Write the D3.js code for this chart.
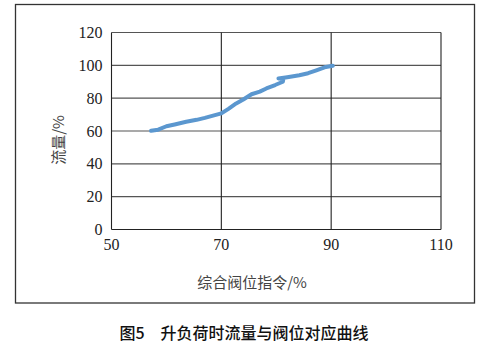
<!DOCTYPE html>
<html><head><meta charset="utf-8">
<script src="https://cdn.jsdelivr.net/npm/d3@7"></script>
<style>body{margin:0;background:#fff}svg{display:block}</style>
</head><body>
<script>
const valve = [57.2, 58.5, 60, 61.5, 63.6, 65.5, 67, 68.5, 70, 71.3, 72.7, 74, 75.5, 77, 78.2, 79.8, 81.2, 81.3, 80.4, 82, 84.2, 85.8, 87.3, 88.8, 90.3];
const flow = [60.1, 60.8, 62.9, 64, 65.6, 66.8, 68, 69.4, 70.7, 73.5, 76.8, 79.2, 82.4, 84, 85.9, 88, 90, 91.8, 92, 92.8, 94, 95.2, 97, 98.8, 99.7];
const xTicks = [50, 70, 90, 110];
const yTicks = [0, 20, 40, 60, 80, 100, 120];
const xLabel = "综合阀位指令/%";
const yLabel = "流量/%";
const caption = "图5　升负荷时流量与阀位对应曲线";

const W = 488, H = 347;
const svg = d3.select("body").append("svg").attr("width", W).attr("height", H);
const x = d3.scaleLinear().domain([50, 110]).range([111.5, 441]);
const y = d3.scaleLinear().domain([0, 120]).range([229.5, 32.5]);

svg.append("rect").attr("x", 15.5).attr("y", 4.5).attr("width", 459).attr("height", 298.5)
  .attr("fill", "none").attr("stroke", "#333").attr("stroke-width", 1.3);

const g = svg.append("g");
g.selectAll(".hg").data(yTicks).join("line")
  .attr("x1", x(50)).attr("x2", x(110)).attr("y1", d => y(d)).attr("y2", d => y(d))
  .attr("stroke", d => d === 0 ? "#222" : "#555").attr("stroke-width", 1.2);
g.selectAll(".vg").data(xTicks).join("line")
  .attr("y1", y(0)).attr("y2", y(120)).attr("x1", d => x(d)).attr("x2", d => x(d))
  .attr("stroke", "#222").attr("stroke-width", 1.1);

const tf = "'Liberation Serif', 'Times New Roman', serif";
svg.selectAll(".xt").data(xTicks).join("text")
  .attr("x", d => x(d)).attr("y", y(0) + 20).attr("text-anchor", "middle")
  .attr("font-family", tf).attr("font-size", 16).attr("fill", "#222").text(d => d);
svg.selectAll(".yt").data(yTicks).join("text")
  .attr("x", x(50) - 9).attr("y", d => y(d) + 5.5).attr("text-anchor", "end")
  .attr("font-family", tf).attr("font-size", 16).attr("fill", "#222").text(d => d);

const pts = valve.map((v, i) => [v, flow[i]]);
svg.append("path").datum(pts)
  .attr("d", d3.line().x(d => x(d[0])).y(d => y(d[1])))
  .attr("fill", "none").attr("stroke", "#5B97CF").attr("stroke-width", 4)
  .attr("stroke-linejoin", "round").attr("stroke-linecap", "round");

svg.append("text").attr("x", 252).attr("y", 288).attr("text-anchor", "middle")
  .attr("font-family", "'Noto Sans CJK SC', sans-serif").attr("font-size", 15).attr("fill", "#444")
  .text(xLabel);
svg.append("text").attr("transform", "translate(64,140) rotate(-90)").attr("text-anchor", "middle")
  .attr("font-family", "'Noto Sans CJK SC', sans-serif").attr("font-size", 15).attr("fill", "#444")
  .text(yLabel);
svg.append("text").attr("x", 244).attr("y", 339).attr("text-anchor", "middle")
  .attr("font-family", "'Noto Sans CJK SC', sans-serif").attr("font-weight", 500).attr("font-size", 16).attr("fill", "#111")
  .text(caption);
</script>
</body></html>
